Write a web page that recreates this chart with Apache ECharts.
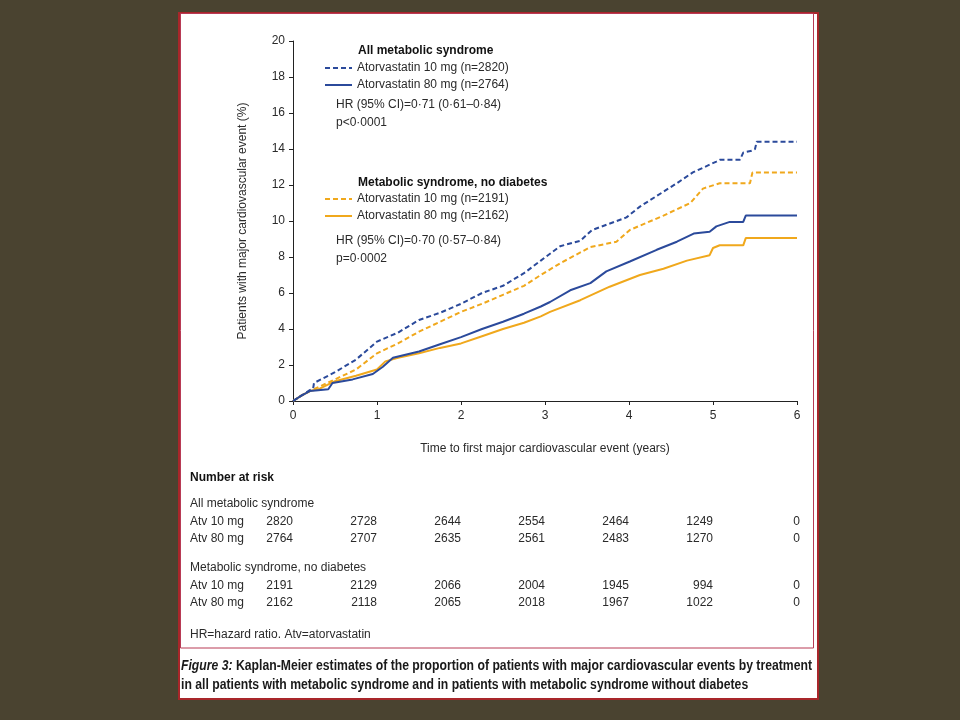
<!DOCTYPE html>
<html><head><meta charset="utf-8">
<script src="https://cdn.jsdelivr.net/npm/echarts@6/dist/echarts.min.js"></script>
<style>html,body{margin:0;padding:0;background:#4a4330;}#c{width:960px;height:720px;}</style>
</head><body><div id="c"></div>
<script>
// ---- data ----
const xTicks = [0, 1, 2, 3, 4, 5, 6];
const yTicks = [0, 2, 4, 6, 8, 10, 12, 14, 16, 18, 20];
// All metabolic syndrome, atorvastatin 10 mg (dashed blue)
const allMets10 = [[0,0],[0.1,0.3],[0.2,0.6],[0.24,0.7],[0.25,1.0],[0.5,1.6],[0.75,2.3],[1.0,3.3],[1.25,3.8],[1.5,4.5],[1.75,4.9],[2.0,5.4],[2.25,6.0],[2.5,6.4],[2.75,7.1],[2.95,7.8],[3.18,8.6],[3.42,8.9],[3.56,9.5],[3.97,10.2],[4.13,10.8],[4.57,12.1],[4.76,12.7],[5.04,13.3],[5.08,13.4],[5.32,13.4],[5.36,13.8],[5.46,13.9],[5.5,14.0],[5.52,14.4],[6.0,14.4]];
// All metabolic syndrome, atorvastatin 80 mg (solid blue)
const allMets80 = [[0,0],[0.1,0.3],[0.2,0.55],[0.3,0.6],[0.42,0.65],[0.47,1.0],[0.71,1.2],[0.95,1.5],[1.07,1.9],[1.19,2.4],[1.5,2.75],[1.75,3.15],[2.0,3.55],[2.25,4.0],[2.5,4.4],[2.75,4.85],[2.95,5.25],[3.06,5.5],[3.3,6.15],[3.54,6.55],[3.73,7.2],[4.01,7.75],[4.33,8.4],[4.57,8.85],[4.77,9.3],[4.96,9.4],[5.04,9.7],[5.2,9.95],[5.36,9.95],[5.39,10.3],[6.0,10.3]];
// Metabolic syndrome, no diabetes, atorvastatin 10 mg (dashed orange)
const noDiab10 = [[0,0],[0.1,0.3],[0.2,0.55],[0.5,1.2],[0.75,1.75],[1.0,2.65],[1.25,3.2],[1.5,3.85],[1.75,4.4],[2.0,4.95],[2.25,5.4],[2.5,5.9],[2.75,6.4],[2.95,7.0],[3.18,7.65],[3.54,8.55],[3.85,8.85],[4.01,9.5],[4.41,10.3],[4.73,11.0],[4.88,11.8],[5.08,12.1],[5.44,12.1],[5.47,12.7],[6.0,12.7]];
// Metabolic syndrome, no diabetes, atorvastatin 80 mg (solid orange)
const noDiab80 = [[0,0],[0.1,0.3],[0.2,0.55],[0.3,0.65],[0.5,1.1],[0.75,1.4],[1.0,1.75],[1.1,2.2],[1.25,2.4],[1.5,2.65],[1.75,2.95],[2.0,3.2],[2.25,3.6],[2.5,4.0],[2.75,4.35],[2.95,4.7],[3.06,4.95],[3.42,5.6],[3.77,6.35],[4.13,7.0],[4.41,7.35],[4.69,7.8],[4.96,8.1],[5.0,8.5],[5.08,8.65],[5.36,8.65],[5.39,9.05],[6.0,9.05]];
// Number at risk
const riskAllAtv10 = [2820, 2728, 2644, 2554, 2464, 1249, 0];
const riskAllAtv80 = [2764, 2707, 2635, 2561, 2483, 1270, 0];
const riskNoDiabAtv10 = [2191, 2129, 2066, 2004, 1945, 994, 0];
const riskNoDiabAtv80 = [2162, 2118, 2065, 2018, 1967, 1022, 0];
const seriesNames = ['Atorvastatin 10 mg (n=2820)', 'Atorvastatin 80 mg (n=2764)', 'Atorvastatin 10 mg (n=2191)', 'Atorvastatin 80 mg (n=2162)'];

// ---- styles ----
const BLUE = '#2b4a9b', ORANGE = '#f0a81c', TXT = '#2a2a2a';
const FONT = '"Liberation Sans", Arial, sans-serif';
const grid = {left: 293, top: 41, width: 504, height: 360};

const chart = echarts.init(document.getElementById('c'));

function measure(text, font) {
  const cv = document.createElement('canvas').getContext('2d');
  cv.font = font; return cv.measureText(text).width;
}

const cap1a = 'Figure 3:', cap1b = ' Kaplan-Meier estimates of the proportion of patients with major cardiovascular events by treatment';
const cap2 = 'in all patients with metabolic syndrome and in patients with metabolic syndrome without diabetes';
const capFontB = 'bold 14px ' + FONT, capFontBI = 'italic bold 14px ' + FONT;
const w1 = measure(cap1a, capFontBI) + measure(cap1b, capFontB);
const capScale = 631 / w1;

const g = [];
// page
g.push({type:'rect', shape:{x:0,y:0,width:960,height:720}, style:{fill:'#4a4330'}, z:-10, silent:true});
g.push({type:'rect', shape:{x:179,y:13,width:639,height:686}, style:{fill:'#ffffff', stroke:'#a8262a', lineWidth:2}, z:-9, silent:true});
g.push({type:'rect', shape:{x:180.5,y:13.5,width:633,height:634.5}, style:{fill:null, stroke:'#b83a55', lineWidth:1}, z:-8, silent:true});

function txt(x, y, text, opt) {
  opt = opt || {};
  g.push({type:'text', x:x, y:y, scaleX: opt.scaleX || 1, z: 10, style:{text:text, fill: opt.fill || TXT, font: opt.font || ('12px ' + FONT), textAlign: opt.align || 'left', textVerticalAlign:'middle', rich: opt.rich}});
}
// legend block 1
txt(358, 51, 'All metabolic syndrome', {font:'bold 12px ' + FONT, fill:'#111'});
g.push({type:'line', shape:{x1:325,y1:68,x2:352,y2:68}, style:{stroke:BLUE, lineWidth:2, lineDash:[5,3]}, z:10});
txt(357, 68, seriesNames[0]);
g.push({type:'line', shape:{x1:325,y1:85,x2:352,y2:85}, style:{stroke:BLUE, lineWidth:2}, z:10});
txt(357, 85, seriesNames[1]);
txt(336, 105, 'HR (95% CI)=0·71 (0·61–0·84)');
txt(336, 123, 'p<0·0001');
// legend block 2
txt(358, 183, 'Metabolic syndrome, no diabetes', {font:'bold 12px ' + FONT, fill:'#111'});
g.push({type:'line', shape:{x1:325,y1:199,x2:352,y2:199}, style:{stroke:ORANGE, lineWidth:2, lineDash:[5,3]}, z:10});
txt(357, 199, seriesNames[2]);
g.push({type:'line', shape:{x1:325,y1:216,x2:352,y2:216}, style:{stroke:ORANGE, lineWidth:2}, z:10});
txt(357, 216, seriesNames[3]);
txt(336, 241, 'HR (95% CI)=0·70 (0·57–0·84)');
txt(336, 259, 'p=0·0002');

// number at risk table
txt(190, 478, 'Number at risk', {font:'bold 12px ' + FONT, fill:'#111'});
txt(190, 504, 'All metabolic syndrome');
txt(190, 568, 'Metabolic syndrome, no diabetes');
const rows = [['Atv 10 mg', riskAllAtv10, 522], ['Atv 80 mg', riskAllAtv80, 539], ['Atv 10 mg', riskNoDiabAtv10, 586], ['Atv 80 mg', riskNoDiabAtv80, 603]];
rows.forEach(function (r) {
  txt(190, r[2], r[0]);
  r[1].forEach(function (v, i) {
    const xx = grid.left + grid.width * xTicks[i] / 6 + (i === 6 ? 3 : 0);
    txt(xx, r[2], String(v), {align:'right'});
  });
});
txt(190, 635, 'HR=hazard ratio. Atv=atorvastatin');

// caption
g.push({type:'text', x:181, y:666, scaleX:capScale, z:10, style:{text:'{i|' + cap1a + '}{b|' + cap1b + '}', textVerticalAlign:'middle',
  rich:{i:{font:capFontBI, fill:'#1a1a1a'}, b:{font:capFontB, fill:'#1a1a1a'}}}});
g.push({type:'text', x:181, y:685, scaleX:capScale, z:10, style:{text:cap2, font:capFontB, fill:'#1a1a1a', textVerticalAlign:'middle'}});

function ser(name, data, color, dashed, z) {
  return {type:'line', name:name, data:data, symbol:'none', z:z, animation:false,
    lineStyle:{color:color, width:2, type: dashed ? [5,3] : 'solid'}, itemStyle:{color:color}};
}

chart.setOption({
  animation:false,
  backgroundColor:'#4a4330',
  grid:{left:grid.left, top:grid.top, width:grid.width, height:grid.height, containLabel:false},
  xAxis:{type:'value', min:0, max:6, interval:1,
    name:'Time to first major cardiovascular event (years)', nameLocation:'middle', nameGap:42,
    nameTextStyle:{color:TXT, fontSize:12, fontFamily:FONT},
    axisLine:{show:true, onZero:false, lineStyle:{color:'#222', width:1}},
    axisTick:{show:true, length:4, lineStyle:{color:'#222'}},
    axisLabel:{color:TXT, fontSize:12, fontFamily:FONT, margin:9},
    splitLine:{show:false}},
  yAxis:{type:'value', min:0, max:20, interval:2,
    name:'Patients with major cardiovascular event (%)', nameLocation:'middle', nameGap:44,
    nameTextStyle:{color:TXT, fontSize:12, fontFamily:FONT},
    axisLine:{show:true, lineStyle:{color:'#222', width:1}},
    axisTick:{show:true, length:4, lineStyle:{color:'#222'}},
    axisLabel:{color:TXT, fontSize:12, fontFamily:FONT, margin:8},
    splitLine:{show:false}},
  series:[
    ser(seriesNames[2], noDiab10, ORANGE, true, 2),
    ser(seriesNames[3], noDiab80, ORANGE, false, 2),
    ser(seriesNames[0], allMets10, BLUE, true, 3),
    ser(seriesNames[1], allMets80, BLUE, false, 3)
  ],
  graphic:{elements:g}
});
</script></body></html>
